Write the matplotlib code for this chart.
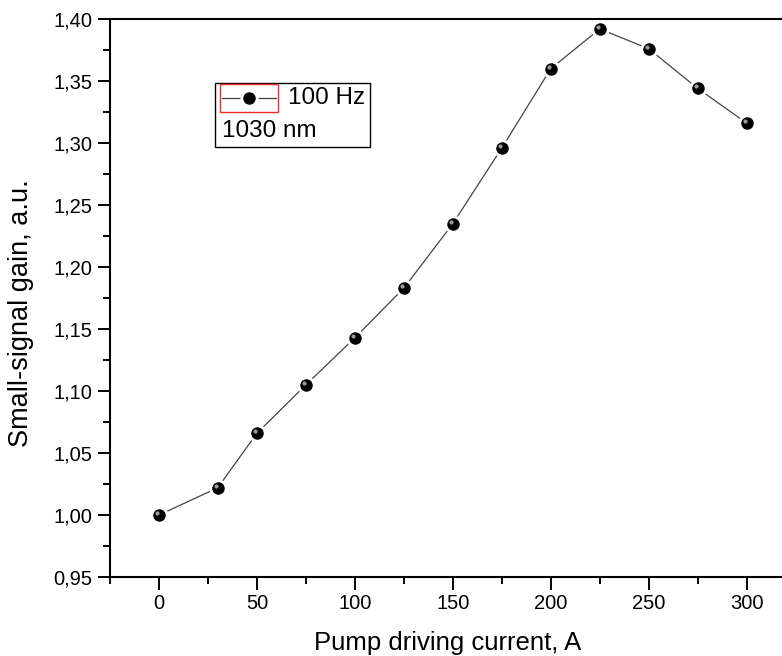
import matplotlib
matplotlib.use("Agg")
import matplotlib.pyplot as plt
import matplotlib.transforms as mtransforms
from matplotlib.patches import Rectangle
from matplotlib.lines import Line2D
from matplotlib.ticker import MultipleLocator, FuncFormatter

plt.rcParams['font.family'] = ['Liberation Sans', 'DejaVu Sans']

# data
current = [0, 30, 50, 75, 100, 125, 150, 175, 200, 225, 250, 275, 300]
gain = [1.000, 1.022, 1.066, 1.105, 1.143, 1.183, 1.235, 1.296, 1.360,
        1.392, 1.376, 1.344, 1.316]

fig = plt.figure(figsize=(7.82, 6.56), dpi=100)
ax = fig.add_axes([0.1407, 0.1204, 0.8593, 0.8506])

ax.plot(current, gain, color='#444444', lw=0.9, zorder=2)
ax.plot(current, gain, ls='none', marker='o', ms=11, mfc='black', mec='white',
        mew=2, zorder=3)
# little highlight so the balls look round
hl = mtransforms.offset_copy(ax.transData, fig=fig, x=-1.5, y=1.5, units='points')
ax.plot(current, gain, ls='none', marker='o', ms=3, mfc='#9a9a9a', mec='none',
        transform=hl, zorder=4)

ax.set_xlim(-25, 318)
ax.set_ylim(0.95, 1.40)
ax.xaxis.set_major_locator(MultipleLocator(50))
ax.xaxis.set_minor_locator(MultipleLocator(25))
ax.yaxis.set_major_locator(MultipleLocator(0.05))
ax.yaxis.set_minor_locator(MultipleLocator(0.025))
ax.yaxis.set_major_formatter(FuncFormatter(lambda v, p: ('%.2f' % v).replace('.', ',')))

ax.spines['right'].set_visible(False)
for s in ['left', 'bottom', 'top']:
    ax.spines[s].set_linewidth(1.5)
ax.tick_params(which='major', direction='out', length=9, width=1.4, labelsize=14.5,
               top=False, right=False)
ax.tick_params(which='minor', direction='out', length=5, width=1.4, top=False, right=False)
ax.tick_params(axis='x', pad=3)

ax.set_xlabel('Pump driving current, A', fontsize=18.5)
ax.set_ylabel('Small-signal gain, a.u.', fontsize=19.5)
ax.xaxis.set_label_coords(0.503, -0.096)
ax.yaxis.set_label_coords(-0.113, 0.473)

# legend box drawn by hand
ax.add_patch(Rectangle((0.156, 0.771), 0.231, 0.114, transform=ax.transAxes,
                       fill=False, ec='black', lw=1, zorder=5))
ax.add_patch(Rectangle((0.164, 0.833), 0.0865, 0.051, transform=ax.transAxes,
                       fill=False, ec='#e83030', lw=1, zorder=5))
ax.add_line(Line2D([0.167, 0.247], [0.858, 0.858], transform=ax.transAxes,
                   color='#444444', lw=0.9, zorder=5))
ax.plot([0.207], [0.858], transform=ax.transAxes, ls='none', marker='o', ms=11,
        mfc='black', mec='white', mew=2, zorder=6)
ax.text(0.265, 0.858, '100 Hz', transform=ax.transAxes, fontsize=17.5, va='center',
        ha='left', zorder=6)
ax.text(0.166, 0.8, '1030 nm', transform=ax.transAxes, fontsize=17.5, va='center',
        ha='left', zorder=6)

fig.savefig('out.png', dpi=100)
